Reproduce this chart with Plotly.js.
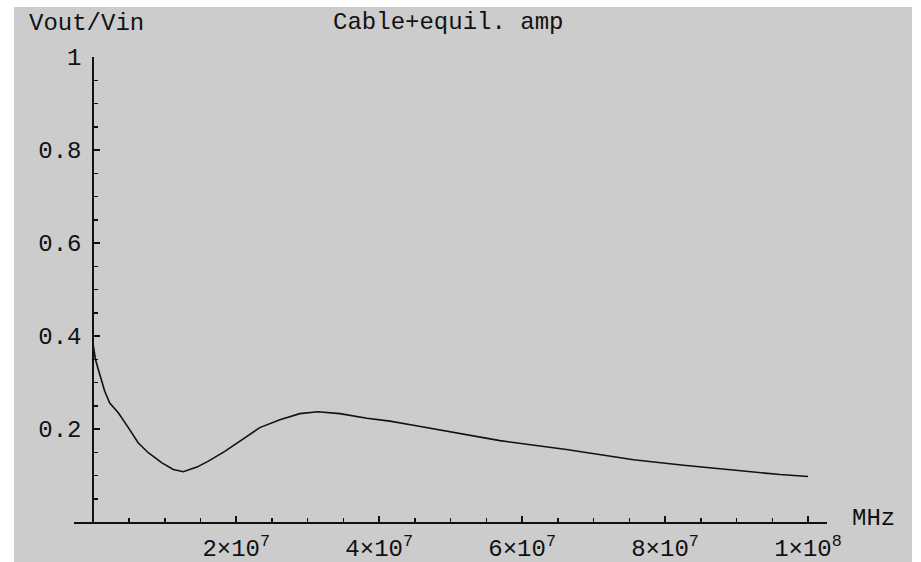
<!DOCTYPE html>
<html>
<head>
<meta charset="utf-8">
<script src="https://cdn.plot.ly/plotly-3.0.1.min.js"></script>
<style>
  html, body { margin: 0; padding: 0; background: #ffffff; }
  #chart { position: absolute; left: 14px; top: 7px; width: 898px; height: 555px; }
</style>
</head>
<body>
<div id="chart"></div>
<script>
// Frequency in Hz
const freqHz = [0, 0.3e6, 0.7e6, 1.6e6, 2.3e6, 3.5e6, 4.9e6, 6.3e6, 7.7e6, 9.6e6,
  11.2e6, 12.6e6, 14.5e6, 16.1e6, 18.4e6, 20.8e6, 23.3e6, 26.1e6, 28.9e6, 31.4e6,
  34.5e6, 38.3e6, 41.5e6, 44.8e6, 48e6, 56.9e6, 66.2e6, 73.2e6, 75.6e6, 82.6e6,
  89.6e6, 96.1e6, 100e6];
// Vout/Vin ratio
const gain = [0.38, 0.35, 0.328, 0.281, 0.256, 0.235, 0.203, 0.170, 0.149, 0.127,
  0.113, 0.108, 0.118, 0.131, 0.152, 0.177, 0.203, 0.220, 0.233, 0.237,
  0.233, 0.223, 0.217, 0.208, 0.199, 0.175, 0.156, 0.140, 0.134, 0.122,
  0.111, 0.102, 0.098];

const xTickVals = [2e7, 4e7, 6e7, 8e7, 1e8];
const xTickText = ["2×10<sup>7</sup>", "4×10<sup>7</sup>", "6×10<sup>7</sup>", "8×10<sup>7</sup>", "1×10<sup>8</sup>"];
const yTickVals = [0.2, 0.4, 0.6, 0.8, 1];
const yTickText = ["0.2", "0.4", "0.6", "0.8", "1"];

const titleText = "Cable+equil. amp";
const yLabel = "Vout/Vin";
const xLabel = "MHz";

const FONT = "Liberation Mono, Courier New, monospace";
const FS = 24;

const trace = {
  x: freqHz, y: gain, type: "scatter", mode: "lines",
  line: { color: "#111111", width: 1.6 },
  hoverinfo: "skip", showlegend: false
};

const layout = {
  width: 898, height: 555, autosize: false,
  paper_bgcolor: "#cccccc", plot_bgcolor: "#cccccc",
  margin: { l: 60, r: 85, t: 50, b: 40 },
  font: { family: FONT, size: FS, color: "#111111" },
  title: { text: titleText, x: 0.497, xref: "paper", xanchor: "center",
           y: 0.975, yref: "container", yanchor: "middle",
           font: { family: FONT, size: FS, color: "#111111" } },
  xaxis: {
    range: [-2.70e6, 1.0266e8], showgrid: false, zeroline: false,
    showline: true, linecolor: "#111111", linewidth: 2,
    tickmode: "array", tickvals: xTickVals, ticktext: xTickText,
    ticks: "inside", ticklen: 6, tickwidth: 1.5, tickcolor: "#111111",
    ticklabelstandoff: 3,
    minor: { tick0: 0, dtick: 5e6, ticks: "inside", ticklen: 4, tickwidth: 1.5, tickcolor: "#111111", showgrid: false },
    tickfont: { family: FONT, size: FS, color: "#111111" },
    fixedrange: true
  },
  yaxis: {
    range: [0, 1], anchor: "free", position: 0.0256,
    showgrid: false, zeroline: false,
    showline: true, linecolor: "#111111", linewidth: 2,
    tickmode: "array", tickvals: yTickVals, ticktext: yTickText,
    ticks: "inside", ticklen: 6, tickwidth: 1.5, tickcolor: "#111111",
    ticklabelstandoff: 6,
    minor: { tick0: 0, dtick: 0.05, ticks: "inside", ticklen: 4, tickwidth: 1.5, tickcolor: "#111111", showgrid: false },
    tickfont: { family: FONT, size: FS, color: "#111111" },
    fixedrange: true
  },
  annotations: [
    { text: yLabel, xref: "paper", yref: "paper", x: -0.062, y: 1.072,
      xanchor: "left", yanchor: "middle", showarrow: false,
      font: { family: FONT, size: FS, color: "#111111" } },
    { text: xLabel, xref: "paper", yref: "paper", x: 1.0305, y: 0.0075,
      xanchor: "left", yanchor: "middle", showarrow: false,
      font: { family: FONT, size: FS, color: "#111111" } }
  ]
};

Plotly.newPlot("chart", [trace], layout, { displayModeBar: false, staticPlot: true });
</script>
</body>
</html>
